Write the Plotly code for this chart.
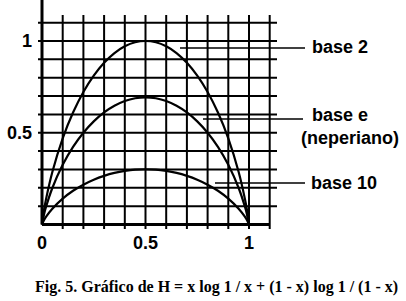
import plotly.graph_objects as go

# ---- data ----
x_vals = [0, 0.01, 0.02, 0.05, 0.1, 0.15, 0.2, 0.25, 0.3, 0.35, 0.4, 0.45, 0.5,
          0.55, 0.6, 0.65, 0.7, 0.75, 0.8, 0.85, 0.9, 0.95, 0.98, 0.99, 1]
h_base2 = [0, 0.081, 0.141, 0.286, 0.469, 0.610, 0.722, 0.811, 0.881, 0.934, 0.971, 0.993, 1.0,
           0.993, 0.971, 0.934, 0.881, 0.811, 0.722, 0.610, 0.469, 0.286, 0.141, 0.081, 0]
h_base_e = [0, 0.056, 0.098, 0.199, 0.325, 0.423, 0.500, 0.562, 0.611, 0.647, 0.673, 0.688, 0.693,
            0.688, 0.673, 0.647, 0.611, 0.562, 0.500, 0.423, 0.325, 0.199, 0.098, 0.056, 0]
h_base10 = [0, 0.024, 0.043, 0.086, 0.141, 0.184, 0.217, 0.244, 0.265, 0.281, 0.292, 0.299, 0.301,
            0.299, 0.292, 0.281, 0.265, 0.244, 0.217, 0.184, 0.141, 0.086, 0.043, 0.024, 0]
grid_x = [0.1, 0.2, 0.3, 0.4, 0.5, 0.6, 0.7, 0.8, 0.9, 1.0, 1.1]
grid_y = [0.1, 0.2, 0.3, 0.4, 0.5, 0.6, 0.7, 0.8, 0.9, 1.0, 1.1]
x_tick_vals = [0, 0.5, 1]
x_tick_text = ["0", "0.5", "1"]
y_tick_vals = [0.5, 1]
y_tick_text = ["0.5", "1"]
series_labels = ["base 2", "base e&nbsp;&nbsp;&nbsp;&nbsp;<br>(neperiano)", "base 10"]
caption = "Fig. 5. Gráfico de H = x log 1 / x + (1 - x) log 1 / (1 - x)"

# ---- pixel <-> data mapping (figure fills the whole canvas) ----
W, H = 406, 301
X0, SX = 42.0, 207.0      # pixel of x=0, pixels per unit
Y0, SY = 224.5, 183.5     # pixel of y=0, pixels per unit


def dx(px):
    return (px - X0) / SX


def dy(py):
    return (Y0 - py) / SY


fig = go.Figure()
for ys in (h_base2, h_base_e, h_base10):
    fig.add_trace(go.Scatter(x=x_vals, y=ys, mode="lines",
                             line=dict(color="black", width=2.2, shape="spline", smoothing=0.6),
                             hoverinfo="skip", showlegend=False))

shapes = []
line_w = 2
for gx in grid_x:
    shapes.append(dict(type="line", xref="x", yref="y", x0=gx, x1=gx,
                       y0=dy(229), y1=dy(15), line=dict(color="black", width=line_w)))
for gy in grid_y:
    shapes.append(dict(type="line", xref="x", yref="y", x0=dx(38), x1=dx(277),
                       y0=gy, y1=gy, line=dict(color="black", width=line_w)))
# axes
shapes.append(dict(type="line", xref="x", yref="y", x0=0, x1=0, y0=0, y1=dy(0),
                   line=dict(color="black", width=3)))
shapes.append(dict(type="line", xref="x", yref="y", x0=0, x1=1.1, y0=0, y1=0,
                   line=dict(color="black", width=3)))
# leader lines
leaders = [(dx(180), dx(305), dy(48)), (dx(203), dx(303), dy(119)), (dx(215), dx(305), dy(183))]
for x0, x1, yv in leaders:
    shapes.append(dict(type="line", xref="x", yref="y", x0=x0, x1=x1, y0=yv, y1=yv,
                       line=dict(color="black", width=1.6)))

font_lbl = dict(family="Liberation Sans, Arial, sans-serif", size=18, color="black")
ann = []
for v, t in zip(x_tick_vals, x_tick_text):
    ann.append(dict(x=v, y=dy(243), text="<b>%s</b>" % t, showarrow=False,
                    xanchor="center", yanchor="middle", font=font_lbl))
for v, t in zip(y_tick_vals, y_tick_text):
    ann.append(dict(x=dx(34), y=v, text="<b>%s</b>" % t, showarrow=False,
                    xanchor="right", yanchor="middle", font=font_lbl))
label_pos = [(dx(310), dy(47)), (dx(299), dy(126.5)), (dx(309), dy(183))]
for (lx, ly), t in zip(label_pos, series_labels):
    ann.append(dict(x=lx, y=ly, text="<b>%s</b>" % t, showarrow=False,
                    xanchor="left", yanchor="middle", align="center", font=font_lbl))
ann.append(dict(x=dx(216), y=dy(287), text="<b>%s</b>" % caption, showarrow=False,
                xanchor="center", yanchor="middle",
                font=dict(family="Liberation Serif, Times New Roman, serif", size=16, color="black")))

fig.update_layout(
    width=W, height=H, margin=dict(l=0, r=0, t=0, b=0),
    paper_bgcolor="white", plot_bgcolor="white",
    xaxis=dict(range=[dx(0), dx(W)], visible=False, fixedrange=True),
    yaxis=dict(range=[dy(H), dy(0)], visible=False, fixedrange=True),
    shapes=shapes, annotations=ann,
)
fig.write_html("out.html", config={"displayModeBar": False},
               post_script="document.body.style.margin='0';document.body.style.overflow='hidden';")
